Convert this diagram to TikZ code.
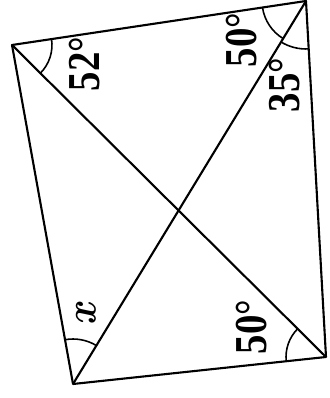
\documentclass[tikz,border=0pt]{standalone}
\usepackage{fontspec}
\setmainfont{Liberation Serif}
\usetikzlibrary{angles}

\begin{document}
\begin{tikzpicture}[x=0.02cm, y=0.02cm, line width=1.2pt,
  rot/.style={rotate=90, xscale=0.85, inner sep=0pt, font=\fontsize{26}{28}\selectfont\bfseries},
  arco/.style={draw, line width=0.9pt}]
  \useasboundingbox (0,0) rectangle (329,398);

  % vértices do quadrilátero
  \coordinate (A) at (12,353);
  \coordinate (B) at (306,397);
  \coordinate (C) at (326,41);
  \coordinate (D) at (73,14);

  % lados e diagonais
  \draw[line join=round] (A) -- (B) -- (C) -- (D) -- cycle;
  \draw (A) -- (C);
  \draw (B) -- (D);

  % marcas dos ângulos
  \pic[arco, angle radius=0.8cm]  {angle = C--A--B};
  \pic[arco, angle radius=0.88cm] {angle = A--B--D};
  \pic[arco, angle radius=0.96cm] {angle = D--B--C};
  \pic[arco, angle radius=0.8cm]  {angle = A--C--D};
  \pic[arco, angle radius=0.9cm]  {angle = B--D--A};

  % valores (texto girado)
  \node[rot] (a52) at (85,334) {52°};
  \node[rot] (b50) at (242,358) {50°};
  \node[rot] (b35) at (285,313) {35°};
  \node[rot, font=\fontsize{32}{34}\selectfont\boldmath] (dx) at (86,86) {$x$};
  \node[rot] (c50) at (252,71)  {50°};
\end{tikzpicture}
\end{document}
